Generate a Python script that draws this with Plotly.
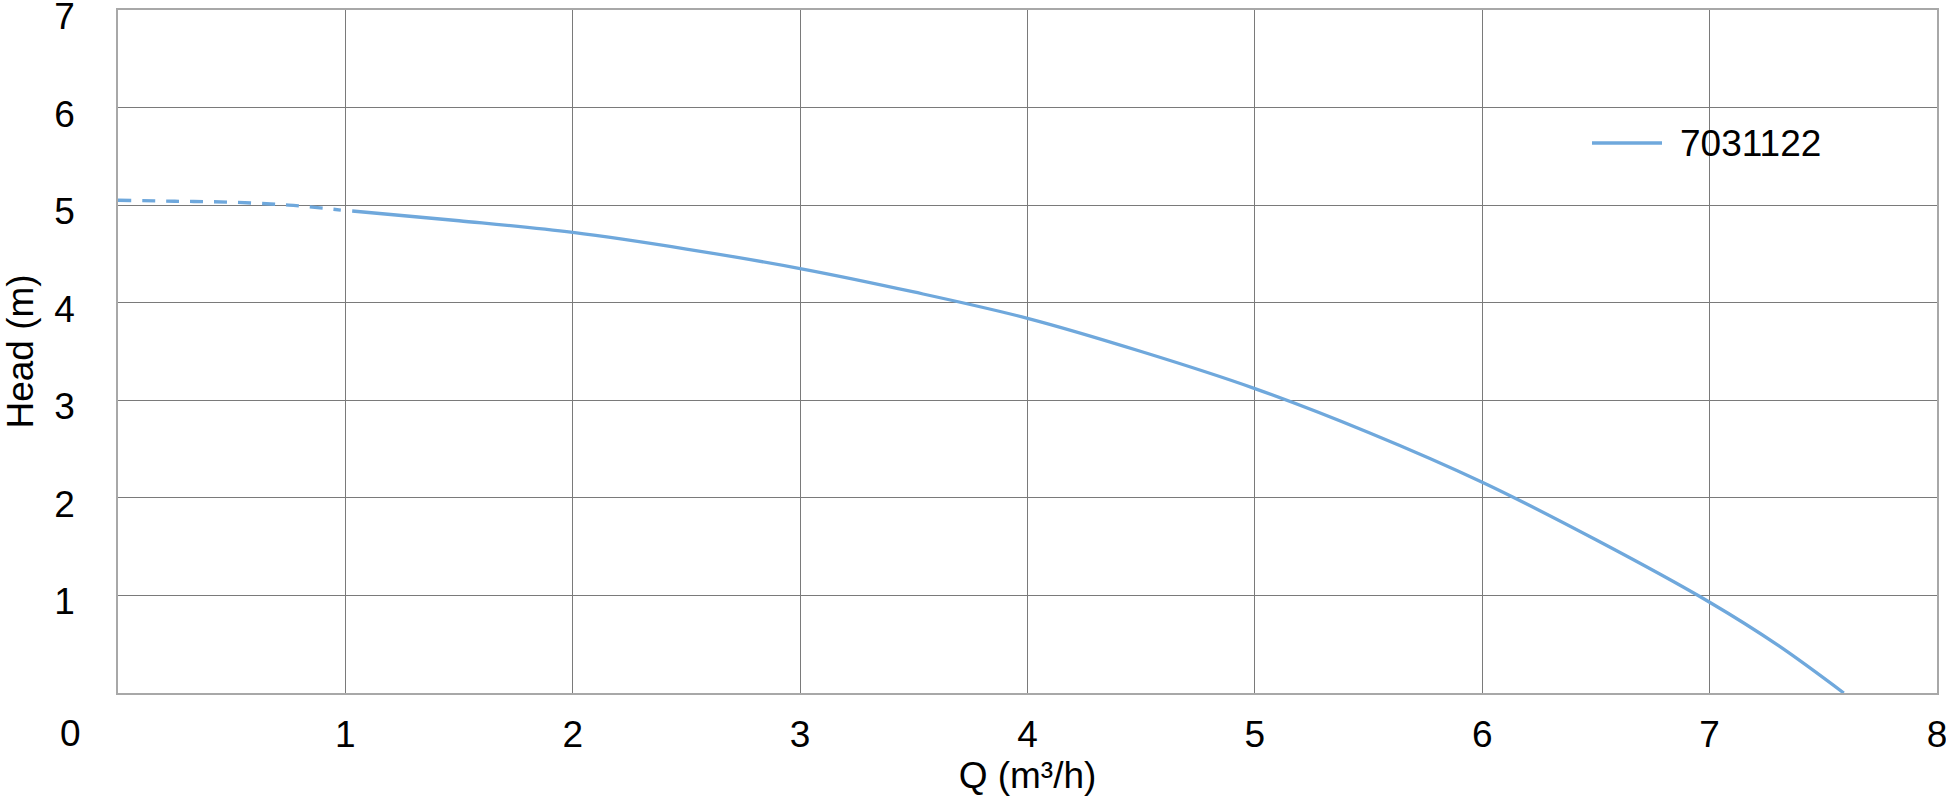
"""Pump curve 7031122: head vs flow, dashed below the minimum flow."""
import plotly.graph_objects as go

Q_DASHED = [0.0, 0.25, 0.5, 0.75, 0.98]
H_DASHED = [5.05, 5.04, 5.03, 5.00, 4.95]
Q_SOLID = [1.03, 1.5, 2.0, 2.5, 3.0, 3.5, 4.0, 4.5, 5.0, 5.5, 6.0, 6.5, 7.0, 7.3, 7.59]
H_SOLID = [4.94, 4.84, 4.72, 4.55, 4.35, 4.11, 3.84, 3.50, 3.12, 2.67, 2.16, 1.57, 0.93, 0.49, 0.0]
SERIES = "7031122"
X_TICKS = [1, 2, 3, 4, 5, 6, 7, 8]
Y_TICKS = [1, 2, 3, 4, 5, 6, 7]

BLUE = "#6FA8DC"
GRID = "#7a7a7a"
EDGE = "#a8a8a8"
FONT = "Liberation Sans, Arial, sans-serif"

W, H = 1946, 806
L, R, T, B = 118, 9, 10, 113
plot_w = W - L - R
plot_h = H - T - B


def px(x):  # page pixel -> paper fraction
    return (x - L) / plot_w


def py(y):
    return (T + plot_h - y) / plot_h


fig = go.Figure()
fig.add_trace(go.Scatter(
    x=Q_DASHED, y=H_DASHED, mode="lines", showlegend=False, hoverinfo="skip",
    line=dict(color=BLUE, width=3.3, dash="13px,11px", shape="spline")))
fig.add_trace(go.Scatter(
    x=Q_SOLID, y=H_SOLID, mode="lines", name=SERIES, showlegend=False,
    line=dict(color=BLUE, width=3.3, shape="spline")))

# Excel-style legend: long line sample, then the series name
fig.add_shape(type="line", xref="paper", yref="paper",
              x0=px(1592), x1=px(1662), y0=py(143), y1=py(143),
              line=dict(color=BLUE, width=3.3))
fig.add_annotation(xref="paper", yref="paper", x=px(1678), y=py(143),
                   text=SERIES, showarrow=False, xanchor="left", yanchor="middle",
                   font=dict(size=37, color="black", family=FONT))

# shared "0" label sits at the lower-left corner, left of the axis
fig.add_annotation(xref="paper", yref="paper", x=px(70), y=py(733),
                   text="0", showarrow=False, xanchor="center", yanchor="middle",
                   font=dict(size=37, color="black", family=FONT))

axis_common = dict(
    showgrid=True, gridcolor=GRID, gridwidth=1, zeroline=False,
    showline=True, linecolor=EDGE, linewidth=1.5, mirror=True,
    ticks="", ticklabeloverflow="allow",
    tickfont=dict(size=37, color="black", family=FONT),
)
fig.update_layout(
    width=W, height=H, template=None,
    paper_bgcolor="white", plot_bgcolor="white",
    font=dict(family=FONT, color="black", size=37),
    margin=dict(l=L, r=R, t=T, b=B, autoexpand=False),
    xaxis=dict(**axis_common, range=[0, 8], tickvals=X_TICKS,
               ticklabelstandoff=8,
               title=dict(text="Q (m³/h)", font=dict(size=37), standoff=4)),
    yaxis=dict(**axis_common, range=[0, 7], tickvals=Y_TICKS,
               ticklabelstandoff=34, ticklabelshift=6,
               title=dict(text="Head (m)", font=dict(size=37), standoff=16)),
    showlegend=False,
)
# drop the browser's default 8px body margin so the figure fills the window
fig.write_html("out.html", config={"displayModeBar": False},
               post_script="document.body.style.margin='0';document.body.style.overflow='hidden';")
